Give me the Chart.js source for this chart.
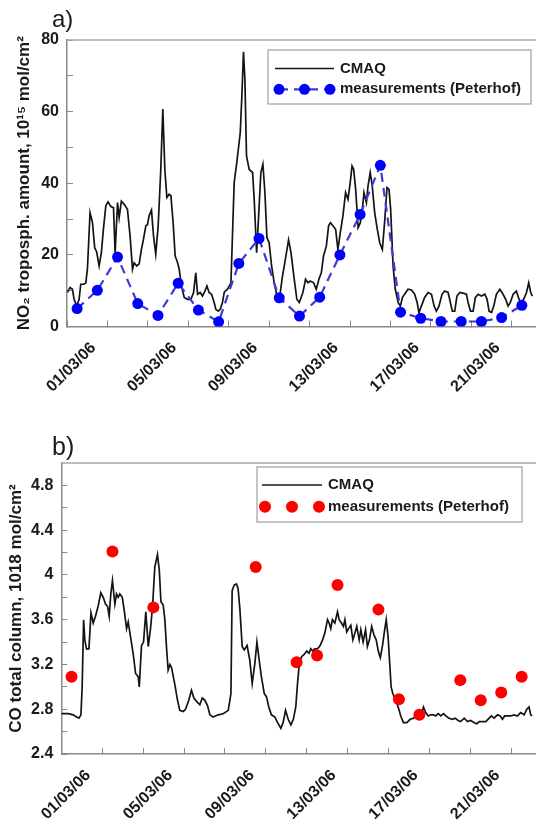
<!DOCTYPE html>
<html lang="en">
<head>
<meta charset="UTF-8">
<title>NO2 and CO columns: CMAQ vs Peterhof</title>
<script src="https://cdn.jsdelivr.net/npm/chart.js"></script>
<style>
    body { margin: 0; background: #fff; }
    canvas { position: absolute; left: 0; }
    #no2Chart { top: 0; }
    #coChart { top: 400px; }
</style>
</head>
<body>
<canvas id="no2Chart" width="536" height="400"></canvas>
<canvas id="coChart" width="536" height="427"></canvas>

<script>
// x is counted in days from 01/03/06 00:00
const dayTicks = [-2, 0, 2, 4, 6, 8, 10, 12, 14, 16, 18, 20];
const dateTickDays = [0, 4, 8, 12, 16, 20];
const dateTickLabels = ['01/03/06', '05/03/06', '09/03/06', '13/03/06', '17/03/06', '21/03/06'];

const no2Ticks = [0, 10, 20, 30, 40, 50, 60, 70, 80];
const no2TickLabels = [0, 20, 40, 60, 80];
const coTicks = [2.4, 2.6, 2.8, 3.0, 3.2, 3.4, 3.6, 3.8, 4.0, 4.2, 4.4, 4.6, 4.8];
const coTickLabels = [2.4, 2.8, 3.2, 3.6, 4.0, 4.4, 4.8];

// a) NO2 tropospheric amount, 10^15 mol/cm2
const no2CmaqDays = [
    -1.98, -1.85, -1.73, -1.65, -1.52, -1.40, -1.32, -1.16, -1.07, -0.99,
    -0.86, -0.74, -0.63, -0.53, -0.41, -0.30, -0.20, -0.08, 0.03, 0.17,
    0.30, 0.38, 0.50, 0.58, 0.69, 0.83, 0.99, 1.12, 1.24, 1.32,
    1.45, 1.57, 1.68, 1.78, 1.90, 1.98, 2.06, 2.18, 2.28, 2.39,
    2.51, 2.64, 2.74, 2.84, 2.94, 3.05, 3.14, 3.25, 3.35, 3.47,
    3.55, 3.66, 3.80, 3.96, 4.13, 4.26, 4.37, 4.46, 4.59, 4.70,
    4.82, 4.92, 5.03, 5.15, 5.28, 5.36, 5.48, 5.58, 5.69, 5.78,
    5.94, 6.11, 6.27, 6.40, 6.57, 6.65, 6.73, 6.80, 6.88, 7.01,
    7.18, 7.26, 7.38, 7.48, 7.59, 7.69, 7.79, 7.89, 8.00, 8.12,
    8.25, 8.42, 8.55, 8.66, 8.83, 8.96, 9.08, 9.24, 9.37, 9.49,
    9.67, 9.80, 9.92, 10.03, 10.20, 10.33, 10.46, 10.58, 10.69, 10.83,
    10.94, 11.03, 11.16, 11.29, 11.40, 11.52, 11.65, 11.78, 11.90, 12.01,
    12.10, 12.18, 12.28, 12.40, 12.51, 12.61, 12.69, 12.81, 12.89, 13.00,
    13.10, 13.22, 13.35, 13.47, 13.60, 13.71, 13.83, 13.93, 14.01, 14.13,
    14.24, 14.38, 14.49, 14.59, 14.70, 14.87, 15.04, 15.20, 15.32, 15.41,
    15.53, 15.69, 15.86, 16.03, 16.16, 16.27, 16.40, 16.55, 16.68, 16.85,
    16.93, 17.06, 17.18, 17.29, 17.43, 17.59, 17.76, 17.84, 17.96, 18.09,
    18.20, 18.34, 18.50, 18.67, 18.78, 18.88, 19.00, 19.11, 19.24, 19.41,
    19.57, 19.70, 19.82, 19.93, 20.07, 20.23, 20.36, 20.48, 20.59, 20.73,
    20.84, 20.94, 21.02
];
const no2CmaqValues = [
    9.5, 10.9, 10.4, 7.6, 5.7, 7.6, 11.8, 11.8, 12.2, 16.0,
    31.8, 29.0, 22.0, 20.8, 16.9, 20.6, 27.1, 33.7, 34.8, 33.5,
    33.2, 20.6, 34.6, 30.4, 35.0, 34.1, 32.7, 25.3, 16.0, 17.8,
    16.9, 17.5, 21.5, 24.3, 28.1, 28.4, 30.9, 32.5, 25.3, 20.2,
    28.1, 43.9, 60.7, 43.9, 36.0, 36.9, 36.5, 29.0, 19.7, 17.8,
    16.0, 11.3, 8.1, 7.6, 7.6, 9.5, 15.0, 9.0, 9.5, 8.5,
    9.9, 11.3, 9.5, 9.0, 6.7, 4.8, 4.3, 4.8, 6.7, 9.6,
    10.4, 12.2, 40.2, 45.8, 54.1, 64.4, 76.7, 69.0, 47.6, 43.9,
    43.0, 35.5, 20.6, 30.9, 43.0, 45.3, 37.4, 24.8, 23.4, 16.9,
    12.2, 7.6, 9.5, 14.1, 19.7, 24.2, 20.6, 13.2, 7.6, 6.7,
    9.5, 13.2, 12.2, 12.7, 12.2, 10.4, 13.2, 15.0, 19.7, 22.5,
    28.1, 29.0, 28.1, 27.1, 21.5, 26.2, 30.9, 37.4, 35.5, 40.2,
    44.8, 43.9, 38.3, 27.6, 29.0, 32.7, 37.4, 34.6, 39.2, 43.0,
    39.2, 31.8, 27.1, 23.4, 21.5, 29.0, 38.8, 38.3, 32.7, 16.9,
    10.4, 6.7, 5.7, 8.1, 9.0, 10.4, 10.2, 9.0, 6.7, 3.9,
    5.7, 8.1, 9.5, 9.0, 5.7, 4.3, 5.7, 9.0, 9.9, 9.5,
    7.6, 4.3, 4.3, 8.5, 9.5, 9.3, 9.0, 6.7, 4.3, 4.3,
    8.1, 9.0, 8.5, 9.0, 7.6, 4.3, 3.9, 5.7, 9.0, 10.4,
    9.0, 7.6, 5.7, 6.7, 9.0, 9.9, 7.6, 6.7, 7.6, 9.5,
    12.2, 9.5, 8.5
];
const no2MeasDays = [-1.5, -0.5, 0.5, 1.5, 2.5, 3.5, 4.5, 5.5, 6.5, 7.5, 8.5, 9.5,
    10.5, 11.5, 12.5, 13.5, 14.5, 15.5, 16.5, 17.5, 18.5, 19.5, 20.5];
const no2MeasValues = [5.0, 10.1, 19.4, 6.4, 3.1, 12.1, 4.6, 1.3, 17.6, 24.6, 8.0, 2.9,
    8.2, 20.0, 31.3, 45.0, 4.0, 2.3, 1.4, 1.4, 1.4, 2.5, 5.9];

// b) CO total column, 10^18 mol/cm2
const coCmaqDays = [
    -1.99, -1.66, -1.42, -1.25, -1.14, -1.04, -0.98, -0.91, -0.85, -0.77,
    -0.65, -0.55, -0.44, -0.33, -0.20, -0.07, 0.05, 0.16, 0.26, 0.34,
    0.42, 0.50, 0.62, 0.70, 0.78, 0.86, 0.98, 1.07, 1.19, 1.27,
    1.38, 1.51, 1.63, 1.76, 1.81, 1.92, 2.02, 2.13, 2.25, 2.36,
    2.46, 2.57, 2.70, 2.79, 2.87, 2.98, 3.06, 3.14, 3.22, 3.31,
    3.39, 3.55, 3.68, 3.79, 3.96, 4.07, 4.23, 4.36, 4.48, 4.61,
    4.77, 4.89, 5.02, 5.15, 5.26, 5.42, 5.67, 5.91, 6.16, 6.29,
    6.35, 6.45, 6.56, 6.64, 6.73, 6.84, 6.94, 7.08, 7.21, 7.33,
    7.46, 7.56, 7.67, 7.78, 7.92, 8.03, 8.14, 8.27, 8.44, 8.57,
    8.73, 8.84, 8.96, 9.09, 9.22, 9.34, 9.46, 9.54, 9.62, 9.74,
    9.87, 10.00, 10.11, 10.19, 10.28, 10.39, 10.52, 10.65, 10.77, 10.88,
    11.01, 11.09, 11.17, 11.25, 11.37, 11.50, 11.58, 11.69, 11.79, 11.86,
    11.95, 12.04, 12.15, 12.25, 12.35, 12.44, 12.56, 12.64, 12.75, 12.87,
    12.96, 13.06, 13.17, 13.29, 13.39, 13.49, 13.59, 13.70, 13.78, 13.88,
    13.97, 14.04, 14.12, 14.20, 14.35, 14.48, 14.59, 14.72, 14.89, 15.05,
    15.21, 15.33, 15.46, 15.57, 15.70, 15.81, 15.93, 16.06, 16.19, 16.30,
    16.42, 16.55, 16.68, 16.79, 16.95, 17.12, 17.25, 17.39, 17.52, 17.69,
    17.85, 18.01, 18.18, 18.31, 18.42, 18.58, 18.75, 18.91, 19.02, 19.15,
    19.32, 19.45, 19.56, 19.67, 19.84, 19.97, 20.13, 20.29, 20.45, 20.62,
    20.75, 20.86, 20.94, 21.01
];
const coCmaqValues = [
    2.76, 2.76, 2.75, 2.73, 2.72, 2.75, 3.00, 3.60, 3.42, 3.34,
    3.34, 3.66, 3.57, 3.63, 3.72, 3.84, 3.80, 3.74, 3.72, 3.63,
    3.83, 3.95, 3.74, 3.83, 3.80, 3.83, 3.80, 3.69, 3.52, 3.58,
    3.45, 3.30, 3.12, 3.09, 3.00, 3.37, 3.40, 3.67, 3.36, 3.52,
    3.72, 4.07, 4.18, 4.04, 3.76, 3.73, 3.60, 3.36, 3.15, 3.20,
    3.17, 3.02, 2.88, 2.79, 2.78, 2.80, 2.88, 2.97, 2.90, 2.87,
    2.84, 2.90, 2.88, 2.83, 2.75, 2.73, 2.75, 2.76, 2.79, 2.94,
    3.86, 3.91, 3.92, 3.88, 3.69, 3.36, 3.33, 3.37, 3.24, 3.03,
    3.21, 3.40, 3.24, 3.09, 2.94, 2.91, 2.82, 2.75, 2.73, 2.68,
    2.63, 2.68, 2.79, 2.71, 2.66, 2.71, 2.82, 3.02, 3.18, 3.27,
    3.29, 3.32, 3.30, 3.34, 3.32, 3.34, 3.34, 3.37, 3.42, 3.48,
    3.60, 3.57, 3.52, 3.60, 3.57, 3.67, 3.60, 3.57, 3.54, 3.60,
    3.49, 3.52, 3.55, 3.42, 3.48, 3.54, 3.42, 3.51, 3.40, 3.51,
    3.36, 3.42, 3.54, 3.46, 3.42, 3.32, 3.26, 3.37, 3.48, 3.60,
    3.45, 3.24, 3.00, 2.94, 2.88, 2.81, 2.74, 2.68, 2.68, 2.71,
    2.72, 2.74, 2.75, 2.74, 2.82, 2.77, 2.74, 2.75, 2.75, 2.74,
    2.76, 2.74, 2.76, 2.74, 2.72, 2.71, 2.72, 2.70, 2.69, 2.72,
    2.69, 2.70, 2.68, 2.67, 2.69, 2.69, 2.69, 2.72, 2.74, 2.72,
    2.75, 2.74, 2.71, 2.74, 2.74, 2.74, 2.75, 2.74, 2.77, 2.75,
    2.80, 2.82, 2.75, 2.74
];
const coMeasDays = [-1.5, 0.5, 2.5, 7.5, 9.5, 10.5, 11.5, 13.5, 14.5, 15.5, 17.5, 18.5, 19.5, 20.5];
const coMeasValues = [3.09, 4.21, 3.71, 4.07, 3.22, 3.28, 3.91, 3.69, 2.89, 2.75, 3.06, 2.88, 2.95, 3.09];

const FONT = 'Arial, "Liberation Sans", sans-serif';
const TEXT = '#1a1a1a';
const AXIS = '#8a8a8a';

Chart.defaults.font.family = FONT;
Chart.defaults.color = TEXT;

function points(xs, ys) {
    return xs.map((x, i) => ({ x: x, y: ys[i] }));
}

function hasValue(list, v) {
    return list.some(t => Math.abs(t - v) < 1e-6);
}

// top frame line, panel letter and the boxed legend
const panelExtras = {
    id: 'panelExtras',
    afterDraw(chart, args, opts) {
        const ctx = chart.ctx;
        const a = chart.chartArea;
        ctx.save();

        ctx.strokeStyle = '#a8a8a8';
        ctx.lineWidth = 1.5;
        ctx.beginPath();
        ctx.moveTo(a.left, a.top);
        ctx.lineTo(a.right, a.top);
        ctx.stroke();

        ctx.fillStyle = TEXT;
        ctx.font = opts.letterSize + 'px ' + FONT;
        ctx.textBaseline = 'alphabetic';
        ctx.fillText(opts.letter, opts.letterX, opts.letterY);

        const lg = opts.legend;
        ctx.strokeStyle = '#a0a0a0';
        ctx.lineWidth = 1.2;
        ctx.strokeRect(lg.left, lg.top, lg.width, lg.height);

        ctx.font = 'bold 15px ' + FONT;
        ctx.textBaseline = 'middle';
        chart.data.datasets.forEach((ds, i) => {
            const y = lg.rows[i];
            if (ds.pointRadius === 0) {
                ctx.strokeStyle = ds.borderColor;
                ctx.lineWidth = ds.borderWidth;
                ctx.setLineDash([]);
                ctx.beginPath();
                ctx.moveTo(lg.lineFrom, y);
                ctx.lineTo(lg.lineTo, y);
                ctx.stroke();
            } else {
                const xs = [lg.dotFrom, (lg.dotFrom + lg.dotTo) / 2, lg.dotTo];
                if (ds.showLine !== false) {
                    ctx.strokeStyle = ds.borderColor;
                    ctx.lineWidth = ds.borderWidth;
                    ctx.setLineDash(ds.borderDash || []);
                    ctx.beginPath();
                    ctx.moveTo(xs[0], y);
                    ctx.lineTo(xs[2], y);
                    ctx.stroke();
                    ctx.setLineDash([]);
                }
                ctx.fillStyle = ds.pointBackgroundColor;
                xs.forEach(x => {
                    ctx.beginPath();
                    ctx.arc(x, y, ds.pointRadius, 0, Math.PI * 2);
                    ctx.fill();
                });
            }
            ctx.fillStyle = TEXT;
            ctx.fillText(ds.label, lg.textX, y);
        });
        ctx.restore();
    }
};

function dayAxis(height) {
    return {
        type: 'linear',
        min: -2,
        max: 21.2,
        afterBuildTicks: s => { s.ticks = dayTicks.map(v => ({ value: v })); },
        // fixed height, and no extra side padding for the rotated labels
        afterFit: s => { s.height = height; s.paddingLeft = 0; s.paddingRight = 0; },
        grid: { drawOnChartArea: false, tickLength: -6, color: AXIS },
        border: { color: AXIS, width: 1.5 },
        ticks: {
            autoSkip: false,
            minRotation: 45,
            maxRotation: 45,
            labelOffset: -14,
            padding: 18,
            font: { size: 16, weight: 'bold' },
            color: TEXT,
            callback: v => {
                const i = dateTickDays.indexOf(v);
                return i >= 0 ? dateTickLabels[i] : '';
            }
        }
    };
}

function valueAxis(min, max, ticks, labelled, width, title, titlePad) {
    return {
        type: 'linear',
        min: min,
        max: max,
        afterBuildTicks: s => { s.ticks = ticks.map(v => ({ value: v })); },
        afterFit: s => { s.width = width; s.paddingTop = 0; s.paddingBottom = 0; },
        grid: { drawOnChartArea: false, tickLength: -6, color: AXIS },
        border: { color: AXIS, width: 1.5 },
        ticks: {
            padding: 14,
            font: { size: 16, weight: 'bold' },
            color: TEXT,
            callback: v => hasValue(labelled, v) ? String(Math.round(v * 10) / 10) : ''
        },
        title: {
            display: true,
            text: title,
            font: { size: 17, weight: 'bold' },
            color: TEXT,
            padding: { top: titlePad, bottom: 0 }
        }
    };
}

const baseOptions = {
    responsive: false,
    animation: false,
    events: []
};

// Gráfico a)
new Chart(document.getElementById('no2Chart'), {
    type: 'line',
    data: {
        datasets: [
            {
                label: 'CMAQ',
                data: points(no2CmaqDays, no2CmaqValues),
                borderColor: '#141414',
                borderWidth: 1.7,
                pointRadius: 0,
                tension: 0,
                order: 2
            },
            {
                label: 'measurements (Peterhof)',
                data: points(no2MeasDays, no2MeasValues),
                borderColor: '#3b3bd8',
                borderWidth: 2.2,
                borderDash: [9, 6],
                pointRadius: 5.5,
                pointBackgroundColor: '#0000ff',
                pointBorderWidth: 0,
                order: 1
            }
        ]
    },
    options: Object.assign({}, baseOptions, {
        layout: { autoPadding: false, padding: { top: 40, left: 0, right: 0, bottom: 0 } },
        scales: {
            x: dayAxis(73.5),
            y: valueAxis(0, 80, no2Ticks, no2TickLabels, 67,
                'NO\u2082 troposph. amount, 10\u00b9\u2075 mol/cm\u00b2', 14)
        },
        plugins: {
            legend: { display: false },
            tooltip: { enabled: false },
            panelExtras: {
                letter: 'a)', letterX: 52, letterY: 27, letterSize: 24,
                legend: {
                    left: 268, top: 50, width: 263, height: 54,
                    rows: [68.5, 89.3],
                    lineFrom: 275, lineTo: 334,
                    dotFrom: 279, dotTo: 330,
                    textX: 340
                }
            }
        }
    }),
    plugins: [panelExtras]
});

// Gráfico b)
new Chart(document.getElementById('coChart'), {
    type: 'line',
    data: {
        datasets: [
            {
                label: 'CMAQ',
                data: points(coCmaqDays, coCmaqValues),
                borderColor: '#141414',
                borderWidth: 1.7,
                pointRadius: 0,
                tension: 0,
                order: 2
            },
            {
                label: 'measurements (Peterhof)',
                data: points(coMeasDays, coMeasValues),
                showLine: false,
                pointRadius: 6,
                pointBackgroundColor: '#ff0000',
                pointBorderWidth: 0,
                order: 1
            }
        ]
    },
    options: Object.assign({}, baseOptions, {
        layout: { autoPadding: false, padding: { top: 63, left: 0, right: 0, bottom: 0 } },
        scales: {
            x: dayAxis(73),
            y: valueAxis(2.4, 5.0, coTicks, coTickLabels, 61.3,
                'CO total column, 1018 mol/cm\u00b2', 6)
        },
        plugins: {
            legend: { display: false },
            tooltip: { enabled: false },
            panelExtras: {
                letter: 'b)', letterX: 52, letterY: 55, letterSize: 25,
                legend: {
                    left: 257, top: 67, width: 265, height: 55,
                    rows: [85, 106.7],
                    lineFrom: 262, lineTo: 322,
                    dotFrom: 265, dotTo: 319,
                    textX: 328
                }
            }
        }
    }),
    plugins: [panelExtras]
});
</script>
</body>
</html>
